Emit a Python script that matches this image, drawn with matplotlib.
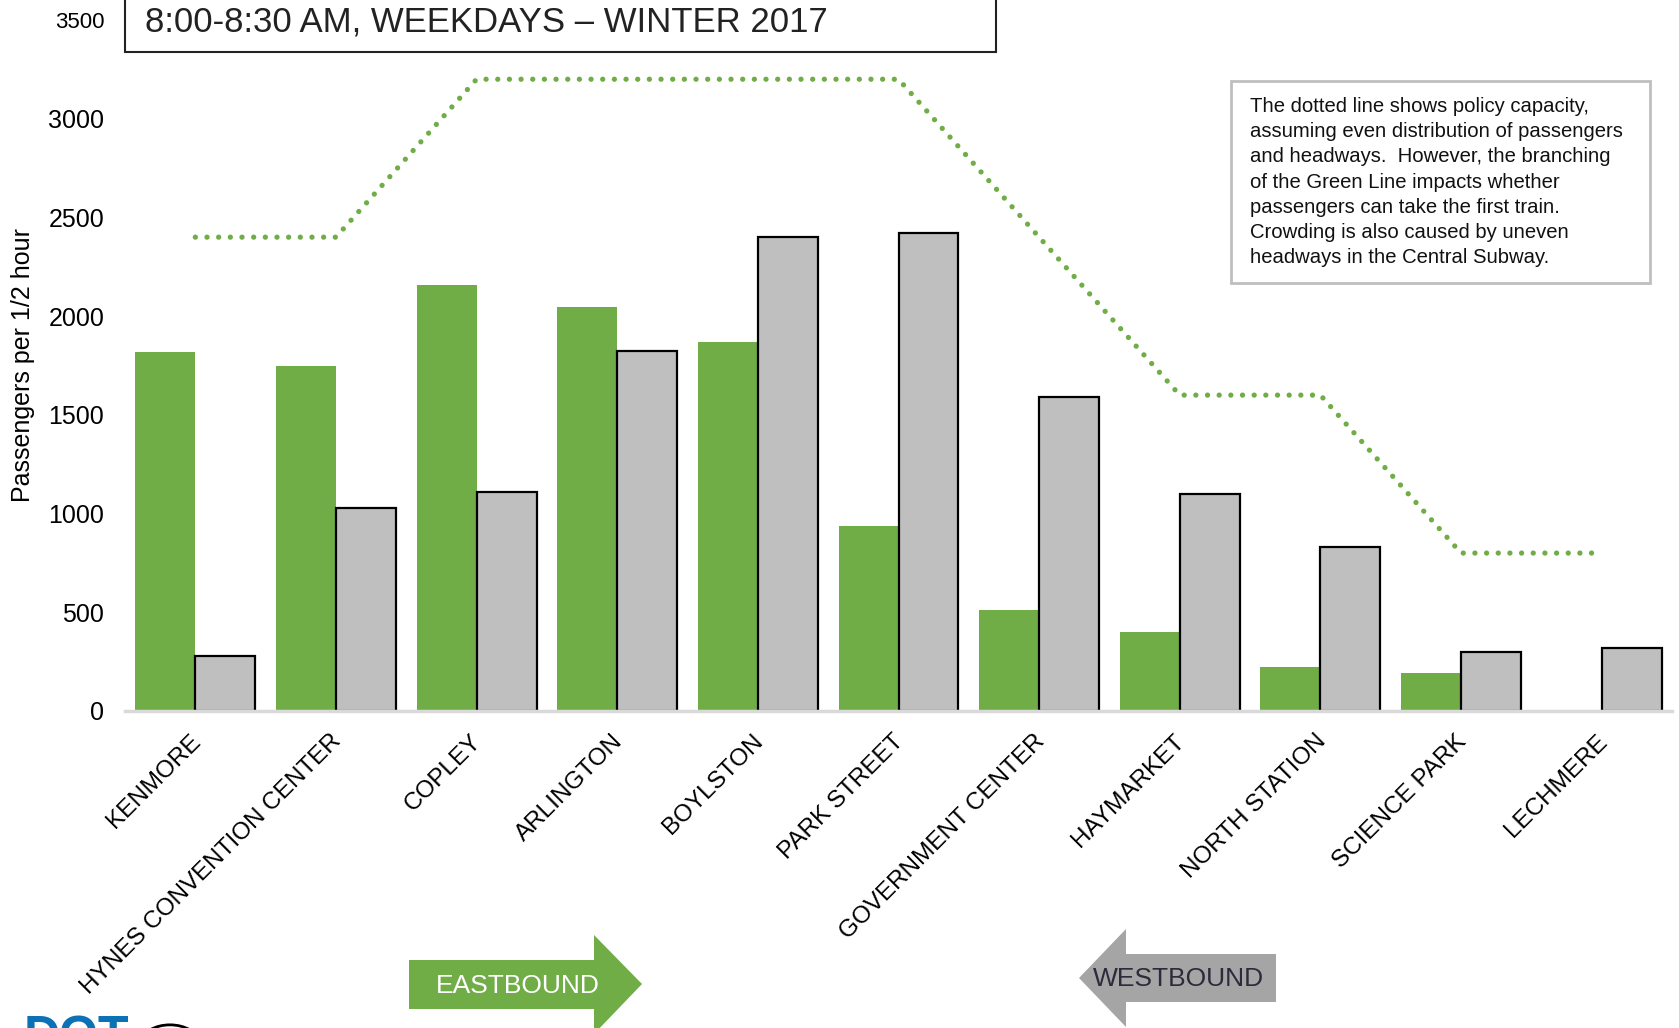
import numpy as np
import matplotlib
matplotlib.use("Agg")
import matplotlib.pyplot as plt
import matplotlib.transforms as mtransforms
from matplotlib.patches import Polygon, Rectangle, Circle

plt.rcParams['font.family'] = ['Liberation Sans', 'DejaVu Sans']

# data
stations = ["KENMORE", "HYNES CONVENTION CENTER", "COPLEY", "ARLINGTON",
            "BOYLSTON", "PARK STREET", "GOVERNMENT CENTER", "HAYMARKET",
            "NORTH STATION", "SCIENCE PARK", "LECHMERE"]
eastbound = [1820, 1745, 2160, 2045, 1870, 935, 510, 400, 225, 190, 0]
westbound = [280, 1030, 1110, 1825, 2400, 2420, 1590, 1100, 830, 300, 320]
capacity = [2400, 2400, 3200, 3200, 3200, 3200, 2400, 1600, 1600, 800, 800]
yticks = [0, 500, 1000, 1500, 2000, 2500, 3000, 3500]

GREEN = "#70ad47"
GRAY = "#bfbfbf"

W, H = 1679, 1028
fig = plt.figure(figsize=(W / 100, H / 100), dpi=100)
ax = fig.add_axes([125 / W, 1 - 711 / H, (1672 - 125) / W, (711 - 20) / H])

x = np.arange(len(stations))
bw = 0.426
ax.bar(x - bw / 2, eastbound, width=bw, color=GREEN, edgecolor="none", zorder=2)
ax.bar(x + bw / 2, westbound, width=bw, color=GRAY, edgecolor="black",
       linewidth=1.6, zorder=2)
ax.plot(x, capacity, color=GREEN, linewidth=3.8, linestyle=(0, (0.01, 2.2)),
        dash_capstyle="round", zorder=3)

ax.set_xlim(-0.5, 10.5)
ax.set_ylim(0, 3500)
ax.set_yticks(yticks)
ax.set_yticklabels([str(v) for v in yticks], fontsize=18)
ax.get_yticklabels()[-1].set_fontsize(16)
ax.tick_params(axis="y", length=0, pad=15)
ax.set_xticks(x)
ax.set_xticklabels(stations, rotation=45, ha="right", va="top",
                   rotation_mode="anchor", fontsize=17.5)
ax.tick_params(axis="x", length=0, pad=14)
shift = mtransforms.ScaledTranslation(-6 / 100, 0, fig.dpi_scale_trans)
for lab in ax.get_xticklabels():
    lab.set_transform(lab.get_transform() + shift)
for s in ["top", "right", "left"]:
    ax.spines[s].set_visible(False)
ax.spines["bottom"].set_color("#d9d9d9")
ax.spines["bottom"].set_linewidth(2.5)
ax.set_ylabel("Passengers per 1/2 hour", fontsize=18)
ax.yaxis.set_label_coords(-0.058, 0.5)

# title box
fig.patches.append(Rectangle((125 / W, 1 - 52 / H), (996 - 125) / W, 60 / H,
                             transform=fig.transFigure, facecolor="white",
                             edgecolor="#222222", linewidth=1.5, zorder=5))
fig.text(145 / W, 1 - 22 / H, "8:00-8:30 AM, WEEKDAYS \u2013 WINTER 2017",
         fontsize=25, color="#222222", va="center", ha="left", zorder=6)

# note box
note = ("The dotted line shows policy capacity,\n"
        "assuming even distribution of passengers\n"
        "and headways.  However, the branching\n"
        "of the Green Line impacts whether\n"
        "passengers can take the first train.\n"
        "Crowding is also caused by uneven\n"
        "headways in the Central Subway.")
fig.patches.append(Rectangle((1231 / W, 1 - 283 / H), (1650 - 1231) / W, (283 - 81) / H,
                             transform=fig.transFigure, facecolor="white",
                             edgecolor="#bfbfbf", linewidth=2, zorder=5))
fig.text(1250 / W, 1 - 182 / H, note, fontsize=14.6, color="#111111",
         va="center", ha="left", linespacing=1.42, zorder=6)

# direction arrows
east = [(409, 960), (594, 960), (594, 935), (642, 984), (594, 1034),
        (594, 1009), (409, 1009)]
fig.patches.append(Polygon([(px / W, 1 - py / H) for px, py in east],
                           transform=fig.transFigure, facecolor=GREEN,
                           edgecolor="none", zorder=5))
fig.text(518 / W, 1 - 986 / H, "EASTBOUND", fontsize=19, color="white",
         ha="center", va="center", zorder=6)

west = [(1276, 954), (1126, 954), (1126, 929), (1079, 978), (1126, 1027),
        (1126, 1002), (1276, 1002)]
fig.patches.append(Polygon([(px / W, 1 - py / H) for px, py in west],
                           transform=fig.transFigure, facecolor="#a5a5a5",
                           edgecolor="none", zorder=5))
fig.text(1178 / W, 1 - 979 / H, "WESTBOUND", fontsize=19, color="#2b2b3b",
         ha="center", va="center", zorder=6)

# partly visible logo at the bottom edge
fig.text(24 / W, 1 - 1015 / H, "DOT", fontsize=36, fontweight="bold",
         color="#0b72b5", ha="left", va="top", zorder=6)
fig.patches.append(Circle((170 / W, 1 - 1042 / H), 28 / W, transform=fig.transFigure,
                          facecolor="white", edgecolor="black", linewidth=2, zorder=5))

fig.savefig("out.png", dpi=100)
